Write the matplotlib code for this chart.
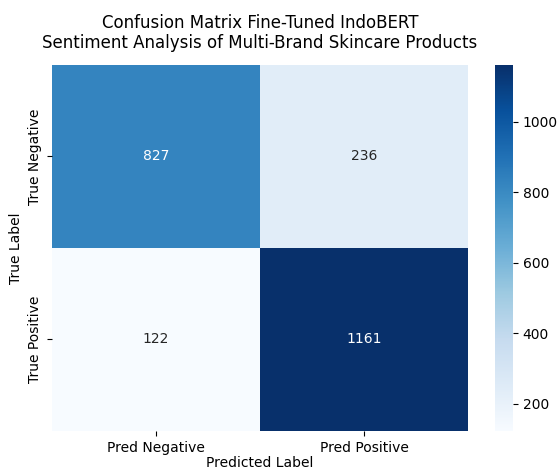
import matplotlib
matplotlib.use("Agg")
import matplotlib.pyplot as plt
import seaborn as sns
import numpy as np

cm = np.array([[827, 236],
               [122, 1161]])
x_labels = ["Pred Negative", "Pred Positive"]
y_labels = ["True Negative", "True Positive"]

fig = plt.figure(figsize=(5.58, 4.7), dpi=100)
ax = fig.add_axes([0.0932, 0.083, 0.7455, 0.7787])
cax = fig.add_axes([0.887, 0.083, 0.032, 0.7787])
sns.heatmap(cm, annot=True, fmt="d", cmap="Blues",
            xticklabels=x_labels, yticklabels=y_labels, ax=ax, cbar_ax=cax)
ax.set_xlabel("Predicted Label", labelpad=1)
ax.set_ylabel("True Label")
ax.set_title("Confusion Matrix Fine-Tuned IndoBERT\nSentiment Analysis of Multi-Brand Skincare Products",
             pad=12)
plt.savefig("out.png", dpi=100)
